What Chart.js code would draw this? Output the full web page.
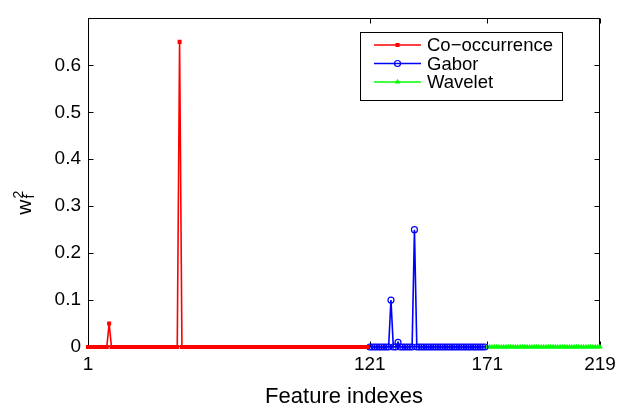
<!DOCTYPE html>
<html><head><meta charset="utf-8">
<script src="https://cdn.jsdelivr.net/npm/chart.js@4.4.1/dist/chart.umd.min.js"></script>
<style>html,body{margin:0;padding:0;background:#fff}#wrap{width:623px;height:408px}</style>
</head><body><div id="wrap"><canvas id="c" width="623" height="408"></canvas></div>
<script>
const seriesNames = ['Co\u2212occurrence', 'Gabor', 'Wavelet'];
const seriesStart = [1, 121, 171];
// feature indexes 1..120
const cooccurrence = [
  0,0,0,0,0,0,0,0,0,0.05,
  0,0,0,0,0,0,0,0,0,0,
  0,0,0,0,0,0,0,0,0,0,
  0,0,0,0,0,0,0,0,0,0.65,
  0,0,0,0,0,0,0,0,0,0,
  0,0,0,0,0,0,0,0,0,0,
  0,0,0,0,0,0,0,0,0,0,
  0,0,0,0,0,0,0,0,0,0,
  0,0,0,0,0,0,0,0,0,0,
  0,0,0,0,0,0,0,0,0,0,
  0,0,0,0,0,0,0,0,0,0,
  0,0,0,0,0,0,0,0,0,0
];
// feature indexes 121..170
const gabor = [
  0,0,0,0,0,0,0,0,0,0.1,
  0,0,0.01,0,0,0,0,0,0,0.25,
  0,0,0,0,0,0,0,0,0,0,
  0,0,0,0,0,0,0,0,0,0,
  0,0,0,0,0,0,0,0,0,0
];
// feature indexes 171..219
const wavelet = [
  0,0,0,0,0,0,0,0,0,0,
  0,0,0,0,0,0,0,0,0,0,
  0,0,0,0,0,0,0,0,0,0,
  0,0,0,0,0,0,0,0,0,0,
  0,0,0,0,0,0,0,0,0
];
const xTickValues = [1, 121, 171, 219];
const xTickLabels = ['1', '121', '171', '219'];
const yTickValues = [0, 0.1, 0.2, 0.3, 0.4, 0.5, 0.6];
const yTickLabels = ['0', '0.1', '0.2', '0.3', '0.4', '0.5', '0.6'];
const xLabel = 'Feature indexes';
const yLabel = { base: 'w', sub: 'f', sup: '2' };

const FONT = "'Liberation Sans', Arial, Helvetica, sans-serif";
const seriesValues = [cooccurrence, gabor, wavelet];
const colors = ['#ff0000', '#0000ff', '#00ff00'];
const styles = [
  { pointStyle: 'rect', pointRadius: 2, fill: true },
  { pointStyle: 'circle', pointRadius: 3, fill: false },
  { pointStyle: 'triangle', pointRadius: 2, fill: true }
];

const datasets = seriesValues.map((vals, s) => ({
  label: seriesNames[s],
  data: vals.map((v, i) => ({ x: seriesStart[s] + i, y: v })),
  borderColor: colors[s],
  borderWidth: 1.6,
  pointStyle: styles[s].pointStyle,
  pointRadius: styles[s].pointRadius,
  pointBorderWidth: 1.2,
  pointBorderColor: colors[s],
  pointBackgroundColor: styles[s].fill ? colors[s] : 'rgba(0,0,0,0)',
  pointHoverRadius: styles[s].pointRadius,
  tension: 0,
  clip: false
}));

const framePlugin = {
  id: 'frame',
  beforeDatasetsDraw(chart) {
    const { ctx, chartArea: a, scales: { x, y } } = chart;
    ctx.save();
    ctx.strokeStyle = '#000';
    ctx.lineWidth = 1;
    const L = Math.round(a.left) + 0.5, R = Math.round(a.right) - 0.5;
    const T = Math.round(a.top) + 0.5, B = Math.round(a.bottom) - 0.5;
    ctx.strokeRect(L, T, R - L, B - T);
    const tl = 5;
    ctx.beginPath();
    xTickValues.forEach(v => {
      const px = Math.round(x.getPixelForValue(v)) + 0.5;
      ctx.moveTo(px, B); ctx.lineTo(px, B - tl);
      ctx.moveTo(px, T); ctx.lineTo(px, T + tl);
    });
    yTickValues.forEach(v => {
      const py = Math.round(y.getPixelForValue(v)) + 0.5;
      ctx.moveTo(L, py); ctx.lineTo(L + tl, py);
      ctx.moveTo(R, py); ctx.lineTo(R - tl, py);
    });
    ctx.stroke();
    ctx.restore();
  }
};

const yLabelPlugin = {
  id: 'ylabel',
  afterDraw(chart) {
    const { ctx, chartArea: a } = chart;
    ctx.save();
    const cy = (a.top + a.bottom) / 2;
    ctx.translate(31, cy + 32);
    ctx.rotate(-Math.PI / 2);
    ctx.fillStyle = '#000';
    ctx.textBaseline = 'alphabetic';
    ctx.textAlign = 'left';
    ctx.font = '21px ' + FONT;
    ctx.fillText(yLabel.base, 0, 0);
    const w = ctx.measureText(yLabel.base).width;
    ctx.font = '14px ' + FONT;
    ctx.fillText(yLabel.sub, w + 1, 3);
    ctx.fillText(yLabel.sup, w + 1, -8);
    ctx.restore();
  }
};

const legendPlugin = {
  id: 'boxlegend',
  afterDraw(chart) {
    const { ctx } = chart;
    ctx.save();
    const bx = 360.5, by = 32.5, bw = 202, bh = 68;
    ctx.fillStyle = '#fff';
    ctx.fillRect(bx, by, bw, bh);
    ctx.strokeStyle = '#000';
    ctx.lineWidth = 1;
    ctx.strokeRect(bx, by, bw, bh);
    const rows = [45, 63.5, 82];
    chart.data.datasets.forEach((ds, i) => {
      const yy = rows[i];
      ctx.strokeStyle = ds.borderColor;
      ctx.lineWidth = ds.borderWidth;
      ctx.beginPath();
      ctx.moveTo(374, yy); ctx.lineTo(421, yy);
      ctx.stroke();
      ctx.fillStyle = ds.pointBackgroundColor;
      ctx.strokeStyle = ds.pointBorderColor;
      ctx.lineWidth = ds.pointBorderWidth;
      Chart.helpers.drawPoint(ctx, { pointStyle: ds.pointStyle, radius: ds.pointRadius, borderWidth: ds.pointBorderWidth, rotation: 0 }, 397.5, yy);
      ctx.fillStyle = '#000';
      ctx.font = '18.5px ' + FONT;
      ctx.textBaseline = 'middle';
      ctx.textAlign = 'left';
      ctx.fillText(ds.label, 427, yy + 1);
    });
    ctx.restore();
  }
};

new Chart(document.getElementById('c'), {
  type: 'line',
  data: { datasets },
  options: {
    responsive: false,
    animation: false,
    events: [],
    layout: { padding: { left: 0, right: 23, top: 11, bottom: 0 } },
    plugins: { legend: { display: false }, tooltip: { enabled: false } },
    scales: {
      x: {
        type: 'linear', min: 1, max: 219,
        afterBuildTicks: s => { s.ticks = xTickValues.map(v => ({ value: v })); },
        afterFit: s => { s.height = 61; },
        ticks: {
          callback: (v, i) => xTickLabels[i],
          color: '#000', font: { family: FONT, size: 19 }, padding: 6,
          maxRotation: 0, autoSkip: false
        },
        grid: { display: false, drawTicks: false },
        border: { display: false },
        title: {
          display: true, text: xLabel, color: '#000',
          font: { family: FONT, size: 22, lineHeight: 1 },
          padding: { top: 0, bottom: 0 }
        }
      },
      y: {
        type: 'linear', min: 0, max: 0.7,
        afterBuildTicks: s => { s.ticks = yTickValues.map(v => ({ value: v })); },
        afterFit: s => { s.width = 88; },
        ticks: {
          callback: (v, i) => yTickLabels[i],
          color: '#000', font: { family: FONT, size: 19 }, padding: 7, autoSkip: false
        },
        grid: { display: false, drawTicks: false },
        border: { display: false }
      }
    }
  },
  plugins: [framePlugin, yLabelPlugin, legendPlugin]
});
</script>
</body></html>
